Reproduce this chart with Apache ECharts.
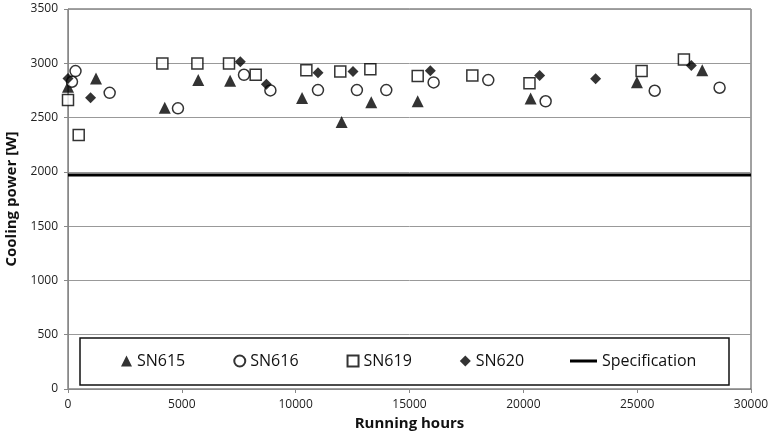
<!DOCTYPE html>
<html>
<head>
<meta charset="utf-8">
<script src="https://cdn.jsdelivr.net/npm/echarts@6/dist/echarts.min.js"></script>
<style>
  html, body { margin: 0; padding: 0; background: #fff; }
  #main { width: 777px; height: 443px; }
</style>
</head>
<body>
<div id="main"></div>
<script>
// [running hours, cooling power W]
const sn615 = [
  [0, 2785], [1230, 2860], [4250, 2590], [5720, 2845], [7120, 2840],
  [10280, 2680], [12020, 2460], [13320, 2640], [15360, 2650],
  [20320, 2675], [24990, 2825], [27860, 2935]
];
const sn616 = [
  [175, 2830], [330, 2928], [1830, 2728], [4830, 2585], [7730, 2894],
  [8890, 2750], [10980, 2753], [12690, 2753], [13980, 2753],
  [16060, 2824], [18460, 2845], [20980, 2650], [25770, 2747], [28620, 2775]
];
const sn619 = [
  [0, 2661], [470, 2340], [4146, 2999], [5683, 2999], [7072, 2999],
  [8243, 2894], [10470, 2937], [11960, 2925], [13280, 2944],
  [15360, 2882], [17760, 2888], [20270, 2815], [25195, 2928], [27053, 3036]
];
const sn620 = [
  [0, 2860], [990, 2683], [7570, 3014], [8713, 2808], [10980, 2913],
  [12518, 2925], [15915, 2931], [20716, 2888], [23175, 2857], [27378, 2980]
];
const specValue = 1970;
const specData = [[0, specValue], [30000, specValue]];

const font = 'Open Sans';
const plain = (v) => String(v);

const chart = echarts.init(document.getElementById('main'));
chart.setOption({
  animation: false,
  textStyle: { fontFamily: font },
  grid: {
    left: 68, right: 26, top: 9, bottom: 54,
    outerBoundsMode: 'none', containLabel: false,
    show: true, borderColor: '#444', borderWidth: 1
  },
  xAxis: {
    type: 'value', min: 0, max: 30000, interval: 5000,
    name: 'Running hours', nameLocation: 'middle', nameGap: 26,
    nameTextStyle: { fontFamily: font, fontWeight: 'bold', fontSize: 15, color: '#111' },
    axisLine: { lineStyle: { color: '#888' } },
    axisTick: { show: true, length: 4, lineStyle: { color: '#888' } },
    axisLabel: { fontFamily: font, fontSize: 12, color: '#222', margin: 10, formatter: plain },
    splitLine: { show: false }
  },
  yAxis: {
    type: 'value', min: 0, max: 3500, interval: 500,
    name: 'Cooling power [W]', nameLocation: 'middle', nameGap: 44,
    nameTextStyle: { fontFamily: font, fontWeight: 'bold', fontSize: 15, color: '#111' },
    axisLine: { show: true, lineStyle: { color: '#888' } },
    axisTick: { show: true, length: 4, lineStyle: { color: '#888' } },
    axisLabel: { fontFamily: font, fontSize: 12, color: '#222', margin: 10, formatter: plain },
    splitLine: { lineStyle: { color: '#999', width: 1 } }
  },
  graphic: [{
    type: 'rect', z: 3,
    shape: { x: 80, y: 338, width: 649, height: 47 },
    style: { fill: '#fff', stroke: '#111', lineWidth: 1.5 }
  }],
  legend: [{
    z: 10, left: 121, top: 353, padding: 0, itemGap: 48,
    itemWidth: 11, itemHeight: 11,
    textStyle: { fontFamily: font, fontSize: 16, color: '#111' },
    data: ['SN615', 'SN616', 'SN619', 'SN620']
  }, {
    z: 10, left: 570, top: 353, padding: 0,
    itemWidth: 27, itemHeight: 3,
    textStyle: { fontFamily: font, fontSize: 16, color: '#111' },
    data: [{ name: 'Specification', icon: 'rect', itemStyle: { color: '#000' } }]
  }],
  series: [{
    name: 'Specification', type: 'line', data: specData,
    symbol: 'none', lineStyle: { color: '#000', width: 3 },
    itemStyle: { color: '#000' }, z: 1
  }, {
    name: 'SN615', type: 'scatter', data: sn615,
    symbol: 'triangle', symbolSize: 12,
    itemStyle: { color: '#000' }
  }, {
    name: 'SN616', type: 'scatter', data: sn616,
    symbol: 'circle', symbolSize: 11,
    itemStyle: { color: '#fff', borderColor: '#000', borderWidth: 1.5 }
  }, {
    name: 'SN619', type: 'scatter', data: sn619,
    symbol: 'rect', symbolSize: 11,
    itemStyle: { color: '#fff', borderColor: '#000', borderWidth: 1.5 }
  }, {
    name: 'SN620', type: 'scatter', data: sn620,
    symbol: 'diamond', symbolSize: 11,
    itemStyle: { color: '#000' }
  }]
});
</script>
</body>
</html>
